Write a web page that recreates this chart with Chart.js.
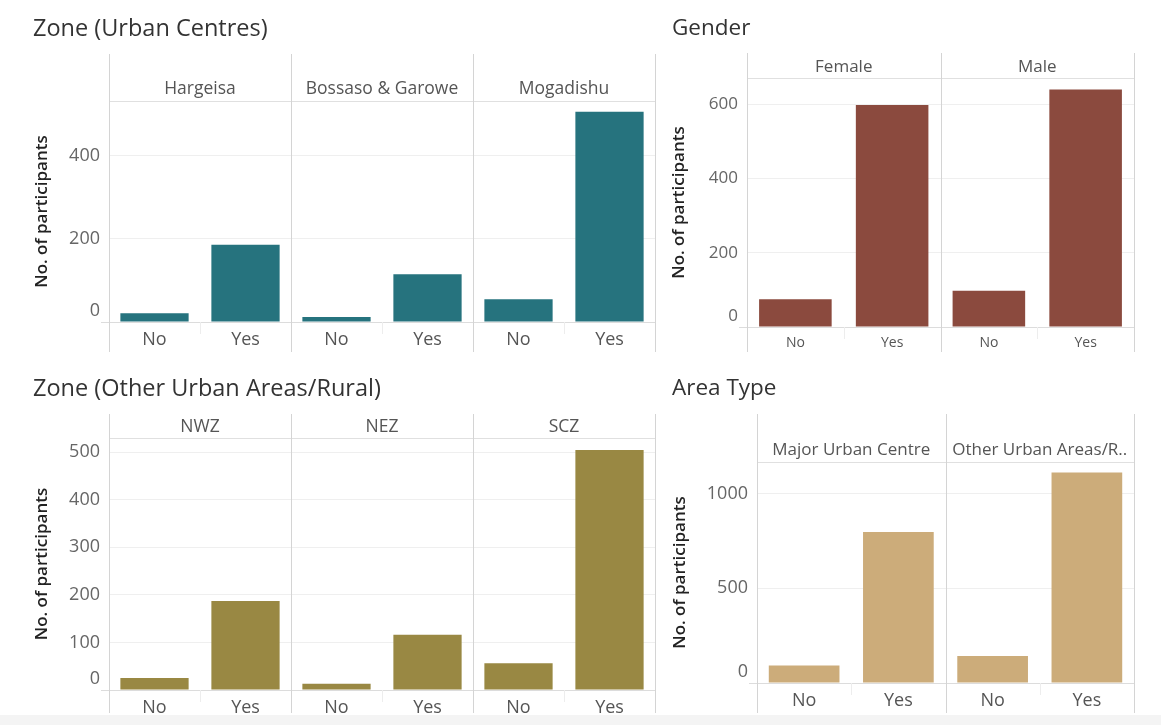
<!DOCTYPE html>
<html><head><meta charset="utf-8">
<script src="https://cdn.jsdelivr.net/npm/chart.js@4.4.1/dist/chart.umd.min.js"></script>
<style>
html,body{margin:0;padding:0;background:#fff;width:1161px;height:725px;overflow:hidden;position:relative;}
canvas{position:absolute;}
#band{position:absolute;left:0;top:715px;width:1161px;height:10px;background:#f4f4f4;z-index:5;}
</style></head><body>
<canvas id="c1"></canvas>
<canvas id="c2"></canvas>
<canvas id="c3"></canvas>
<canvas id="c4"></canvas>
<div id="band"></div>
<script>
// ---- data ----
const responses = ['No', 'Yes'];
const yAxisTitle = 'No. of participants';

const zoneUrbanTitle = 'Zone (Urban Centres)';
const zoneUrbanFacets = ['Hargeisa', 'Bossaso & Garowe', 'Mogadishu'];
const zoneUrbanNo = [21, 12, 55];
const zoneUrbanYes = [186, 115, 506];
const zoneUrbanTicks = [0, 200, 400];

const genderTitle = 'Gender';
const genderFacets = ['Female', 'Male'];
const genderNo = [75, 98];
const genderYes = [598, 640];
const genderTicks = [0, 200, 400, 600];

const zoneOtherTitle = 'Zone (Other Urban Areas/Rural)';
const zoneOtherFacets = ['NWZ', 'NEZ', 'SCZ'];
const zoneOtherNo = [25, 13, 56];
const zoneOtherYes = [187, 116, 505];
const zoneOtherTicks = [0, 100, 200, 300, 400, 500];

const areaTitle = 'Area Type';
const areaFacets = ['Major Urban Centre', 'Other Urban Areas/R..'];
const areaNo = [92, 143];
const areaYes = [798, 1111];
const areaTicks = [0, 500, 1000];

// ---- layout / style ----
const FONT = '"Open Sans", "Noto Sans", "DejaVu Sans", sans-serif';
const panels = [
  {id:'c1', title:zoneUrbanTitle, facets:zoneUrbanFacets, no:zoneUrbanNo, yes:zoneUrbanYes, ticks:zoneUrbanTicks,
   color:'#26737e', max:532, box:{x:0,y:0,w:660,h:360}, area:{l:109,t:101,r:655,b:322},
   frameTop:54, frameBottom:352, headerY:89, titleX:33, titleY:29, titleFont:23.5, yTitleX:42, xLabelY:340,
   tickFont:18, xFont:18, headerFont:17.5},
  {id:'c2', title:genderTitle, facets:genderFacets, no:genderNo, yes:genderYes, ticks:genderTicks,
   color:'#8b4a3e', max:671, box:{x:660,y:0,w:501,h:360}, area:{l:87,t:78,r:474,b:327},
   frameTop:53, frameBottom:352, headerY:67, titleX:12, titleY:29, titleFont:22.5, yTitleX:19, xLabelY:343,
   tickFont:17, xFont:14, headerFont:17},
  {id:'c3', title:zoneOtherTitle, facets:zoneOtherFacets, no:zoneOtherNo, yes:zoneOtherYes, ticks:zoneOtherTicks,
   color:'#998843', max:530, box:{x:0,y:360,w:660,h:365}, area:{l:109,t:78,r:655,b:330},
   frameTop:54, frameBottom:353, headerY:67, titleX:33, titleY:29, titleFont:23.5, yTitleX:42, xLabelY:348,
   tickFont:18, xFont:18, headerFont:17.5},
  {id:'c4', title:areaTitle, facets:areaFacets, no:areaNo, yes:areaYes, ticks:areaTicks,
   color:'#ccac7a', max:1167, box:{x:660,y:360,w:501,h:365}, area:{l:97,t:102,r:474,b:323},
   frameTop:54, frameBottom:353, headerY:90, titleX:12, titleY:29, titleFont:22.5, yTitleX:20, xLabelY:341,
   tickFont:18, xFont:18, headerFont:17}
];

function facetPlugin(cfg){
  return {
    id:'facets_'+cfg.id,
    afterDraw(chart){
      const ctx = chart.ctx;
      const ca = chart.chartArea;
      const xs = chart.scales.x, ys = chart.scales.y;
      const n = cfg.facets.length;
      const fw = (ca.right - ca.left)/n;
      ctx.save();
      // zero line
      const y0 = ys.getPixelForValue(0);
      ctx.strokeStyle = '#dcdcdc'; ctx.lineWidth = 1;
      ctx.beginPath(); ctx.moveTo(ca.left-8, Math.round(y0)+0.5); ctx.lineTo(ca.right, Math.round(y0)+0.5); ctx.stroke();
      // header line
      ctx.strokeStyle = '#e0e0e0';
      ctx.beginPath(); ctx.moveTo(ca.left, Math.round(ca.top)+0.5); ctx.lineTo(ca.right, Math.round(ca.top)+0.5); ctx.stroke();
      // facet separators
      ctx.strokeStyle = '#d4d4d4';
      for(let i=0;i<=n;i++){
        const x = Math.round(ca.left + i*fw)+0.5;
        ctx.beginPath(); ctx.moveTo(x, cfg.frameTop); ctx.lineTo(x, cfg.frameBottom); ctx.stroke();
      }
      // faint tick between No/Yes
      ctx.strokeStyle = '#ededed';
      for(let i=0;i<n;i++){
        const x = Math.round(ca.left + i*fw + fw/2)+0.5;
        ctx.beginPath(); ctx.moveTo(x, y0); ctx.lineTo(x, y0+12); ctx.stroke();
      }
      // title
      ctx.fillStyle = '#333';
      ctx.font = cfg.titleFont + 'px ' + FONT;
      ctx.textAlign = 'left'; ctx.textBaseline = 'middle';
      ctx.fillText(cfg.title, cfg.titleX, cfg.titleY);
      // headers
      ctx.fillStyle = '#555';
      ctx.font = cfg.headerFont + 'px ' + FONT;
      ctx.textAlign = 'center';
      cfg.facets.forEach((f,i)=>{
        ctx.fillText(f, ca.left + i*fw + fw/2, cfg.headerY);
      });
      // y tick labels
      ctx.fillStyle = '#666';
      ctx.font = cfg.tickFont + 'px ' + FONT;
      ctx.textAlign = 'right';
      cfg.ticks.forEach(v=>{
        const py = ys.getPixelForValue(v);
        ctx.fillText(String(v), ca.left-9, v===0 ? py-11 : py);
      });
      // x labels
      ctx.fillStyle = '#555';
      ctx.font = cfg.xFont + 'px ' + FONT;
      ctx.textAlign = 'center';
      chart.data.labels.forEach((lab,i)=>{
        ctx.fillText(lab, xs.getPixelForValue(i), cfg.xLabelY);
      });
      // y title
      ctx.fillStyle = '#222';
      ctx.font = '600 17px ' + FONT;
      ctx.translate(cfg.yTitleX, (ca.top+ca.bottom)/2);
      ctx.rotate(-Math.PI/2);
      ctx.textAlign = 'center';
      ctx.fillText(yAxisTitle, 0, 0);
      ctx.restore();
    }
  };
}

function makePanel(cfg){
  const canvas = document.getElementById(cfg.id);
  canvas.width = cfg.box.w; canvas.height = cfg.box.h;
  canvas.style.width = cfg.box.w+'px'; canvas.style.height = cfg.box.h+'px';
  canvas.style.left = cfg.box.x+'px'; canvas.style.top = cfg.box.y+'px';
  const labels = [], data = [];
  cfg.facets.forEach((f,i)=>{
    responses.forEach(r=>labels.push(r));
    data.push(cfg.no[i], cfg.yes[i]);
  });
  const A = cfg.area;
  new Chart(canvas, {
    type:'bar',
    data:{labels, datasets:[{data, backgroundColor:cfg.color, borderWidth:0, barPercentage:0.75, categoryPercentage:1}]},
    options:{
      responsive:false, animation:false, devicePixelRatio:1,
      layout:{padding:{left:0, top:A.t, right:cfg.box.w-A.r, bottom:0}},
      plugins:{legend:{display:false}, tooltip:{enabled:false}, title:{display:false}},
      scales:{
        x:{ticks:{display:false}, grid:{display:false}, border:{display:false},
           afterFit:s=>{ s.height = cfg.box.h - A.b; }},
        y:{min:0, max:cfg.max, ticks:{display:false},
           afterBuildTicks:s=>{ s.ticks = cfg.ticks.map(v=>({value:v})); },
           grid:{color:c=>(c.tick && c.tick.value===0) ? 'rgba(0,0,0,0)' : '#efefef', drawTicks:false},
           border:{display:false},
           afterFit:s=>{ s.width = A.l; }}
      }
    },
    plugins:[facetPlugin(cfg)]
  });
}
panels.forEach(makePanel);
</script>
</body></html>
